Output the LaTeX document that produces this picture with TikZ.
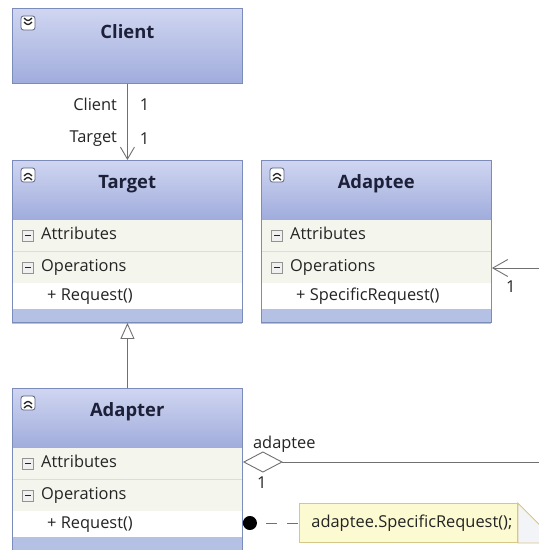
\documentclass[tikz,border=0pt]{standalone}
\usepackage{fontspec}
\setmainfont{Open Sans}
\usetikzlibrary{positioning,arrows.meta}

\definecolor{headtop}{RGB}{208,214,241}
\definecolor{headbot}{RGB}{160,172,220}
\definecolor{boxline}{RGB}{124,140,186}
\definecolor{rowfill}{RGB}{244,246,237}
\definecolor{sepcol}{RGB}{220,222,214}
\definecolor{footcol}{RGB}{180,192,228}
\definecolor{linkcol}{RGB}{112,112,112}
\definecolor{notefill}{RGB}{252,250,208}
\definecolor{noteline}{RGB}{214,198,136}
\definecolor{foldfill}{RGB}{242,244,248}
\definecolor{txtcol}{RGB}{36,36,36}
\definecolor{titlecol}{RGB}{28,32,56}

\begin{document}
\begin{tikzpicture}[x=1pt, y=-1pt,
  headbox/.style={anchor=north west, minimum width=230pt, minimum height=59pt,
    inner sep=0pt, top color=headtop, bottom color=headbot},
  row/.style={anchor=north west, minimum width=230pt, minimum height=32pt,
    inner sep=0pt, fill=rowfill},
  itemrow/.style={row, minimum height=25pt, fill=white},
  footrow/.style={row, minimum height=15pt, fill=footcol},
  classbox/.style={anchor=north west, minimum width=230pt, minimum height=162pt,
    inner sep=0pt, draw=boxline, line width=0.9pt},
  titletext/.style={font=\fontsize{18.4}{21}\selectfont\bfseries, text=titlecol},
  rowtext/.style={inner sep=0pt, text height=12pt, text depth=3.5pt,
    font=\fontsize{16.4}{19}\selectfont, text=txtcol},
  lbl/.style={inner sep=0pt, font=\fontsize{16.4}{19}\selectfont, text=txtcol},
  cicon/.style={draw=boxline!70!black, line width=0.8pt, fill=white, rounded corners=2.5pt,
    minimum size=14pt, inner sep=0pt},
  upicon/.style={cicon, path picture={
    \draw[line width=1.3pt, txtcol] ([shift={(-4pt,-1pt)}]path picture bounding box.center)
      -- ++(4pt,3.5pt) -- ++(4pt,-3.5pt);
    \draw[line width=1.3pt, txtcol] ([shift={(-4pt,-5pt)}]path picture bounding box.center)
      -- ++(4pt,3.5pt) -- ++(4pt,-3.5pt);}},
  downicon/.style={cicon, path picture={
    \draw[line width=1.3pt, txtcol] ([shift={(-4pt,5pt)}]path picture bounding box.center)
      -- ++(4pt,-3.5pt) -- ++(4pt,3.5pt);
    \draw[line width=1.3pt, txtcol] ([shift={(-4pt,1pt)}]path picture bounding box.center)
      -- ++(4pt,-3.5pt) -- ++(4pt,3.5pt);}},
  minusbox/.style={draw=gray!85, line width=0.8pt, fill=gray!12, minimum size=11pt,
    inner sep=0pt, path picture={\draw[line width=1.4pt, txtcol]
      ([xshift=-3pt]path picture bounding box.center) -- ++(6pt,0pt);}},
  link/.style={draw=linkcol, line width=0.9pt},
  note/.style={anchor=west, minimum width=218pt, minimum height=39pt, fill=notefill,
    draw=noteline, line width=0.9pt, text width=194pt, inner xsep=12pt, align=left,
    font=\fontsize{16.4}{19}\selectfont, text=txtcol}
]
\path[use as bounding box, clip] (0,0) rectangle (539,550);
\fill[white] (0,0) rectangle (539,550);

% client (collapsed)
\node[headbox, draw=boxline, line width=0.9pt, minimum height=75pt] (client) at (12,8) {};
\node[titletext] at ([yshift=-24pt]client.north) {Client};
\node[downicon] at ([xshift=16pt,yshift=-15pt]client.north west) {};

% classes
\foreach \n/\x/\y/\t/\o in {target/12/160/Target/{+ Request()},
    adaptee/261/160/Adaptee/{+ SpecificRequest()},
    adapter/12/388/Adapter/{+ Request()}} {
  \node[headbox] (\n-head) at (\x,\y) {};
  \node[row] (\n-attr) at (\n-head.south west) {};
  \node[row, minimum height=31pt] (\n-ops) at (\n-attr.south west) {};
  \node[itemrow] (\n-item) at (\n-ops.south west) {};
  \node[footrow] (\n-foot) at (\n-item.south west) {};
  \draw[sepcol, line width=0.8pt] (\n-ops.north west) -- (\n-ops.north east);
  \node[titletext] at ([yshift=-24pt]\n-head.north) {\t};
  \node[upicon] at ([xshift=16pt,yshift=-15pt]\n-head.north west) {};
  \node[minusbox] at ([xshift=16pt]\n-attr.west) {};
  \node[minusbox] at ([xshift=16pt]\n-ops.west) {};
  \node[rowtext, right=29pt of \n-attr.west] {Attributes};
  \node[rowtext, right=29pt of \n-ops.west] {Operations};
  \node[rowtext, right=35pt of \n-item.west] {\o};
  \node[classbox] (\n) at (\x,\y) {};
}

% client uses target
\draw[link, -{Straight Barb[length=12pt, width=14pt]}] (client) -- (target)
  node[lbl, pos=.27, left=10pt] {Client}
  node[lbl, pos=.27, right=12pt] {1}
  node[lbl, pos=.72, left=10pt] {Target}
  node[lbl, pos=.72, right=12pt] {1};

% adapter is a target
\draw[link, -{Triangle[open, length=16pt, width=14pt]}] (adapter) -- (target);

% adapter holds the adaptee
\coordinate (aggend) at ([yshift=-74pt]adapter.north east);
\coordinate (assocend) at ([yshift=-108pt]adaptee.north east);
\coordinate (bendlow) at (560,462);
\coordinate (bendhigh) at (560,268);
\draw[link, {Diamond[open, length=40pt, width=21pt]}-{Straight Barb[length=15pt, width=17pt]}]
  (aggend) -- (bendlow) -- (bendhigh) -- (assocend);
\node[lbl, above right=9pt and 10pt of aggend] {adaptee};
\node[lbl, below right=15pt and 14pt of aggend] {1};
\node[lbl, below right=13pt and 14pt of assocend] {1};

% note on Request()
\coordinate (callpt) at ([yshift=-135pt]adapter.north east);
\node[note] (note) at (299,523) {adaptee.SpecificRequest();};
\filldraw[fill=foldfill, draw=noteline, line width=0.9pt]
  (note.north east) -- ++(23pt,-23pt) |- (note.south east) -- cycle;
\draw[link, dash pattern=on 11pt off 10pt, dash phase=11pt,
  {Circle[length=14pt, color=black]}-] (callpt) -- (note);

\end{tikzpicture}
\end{document}
